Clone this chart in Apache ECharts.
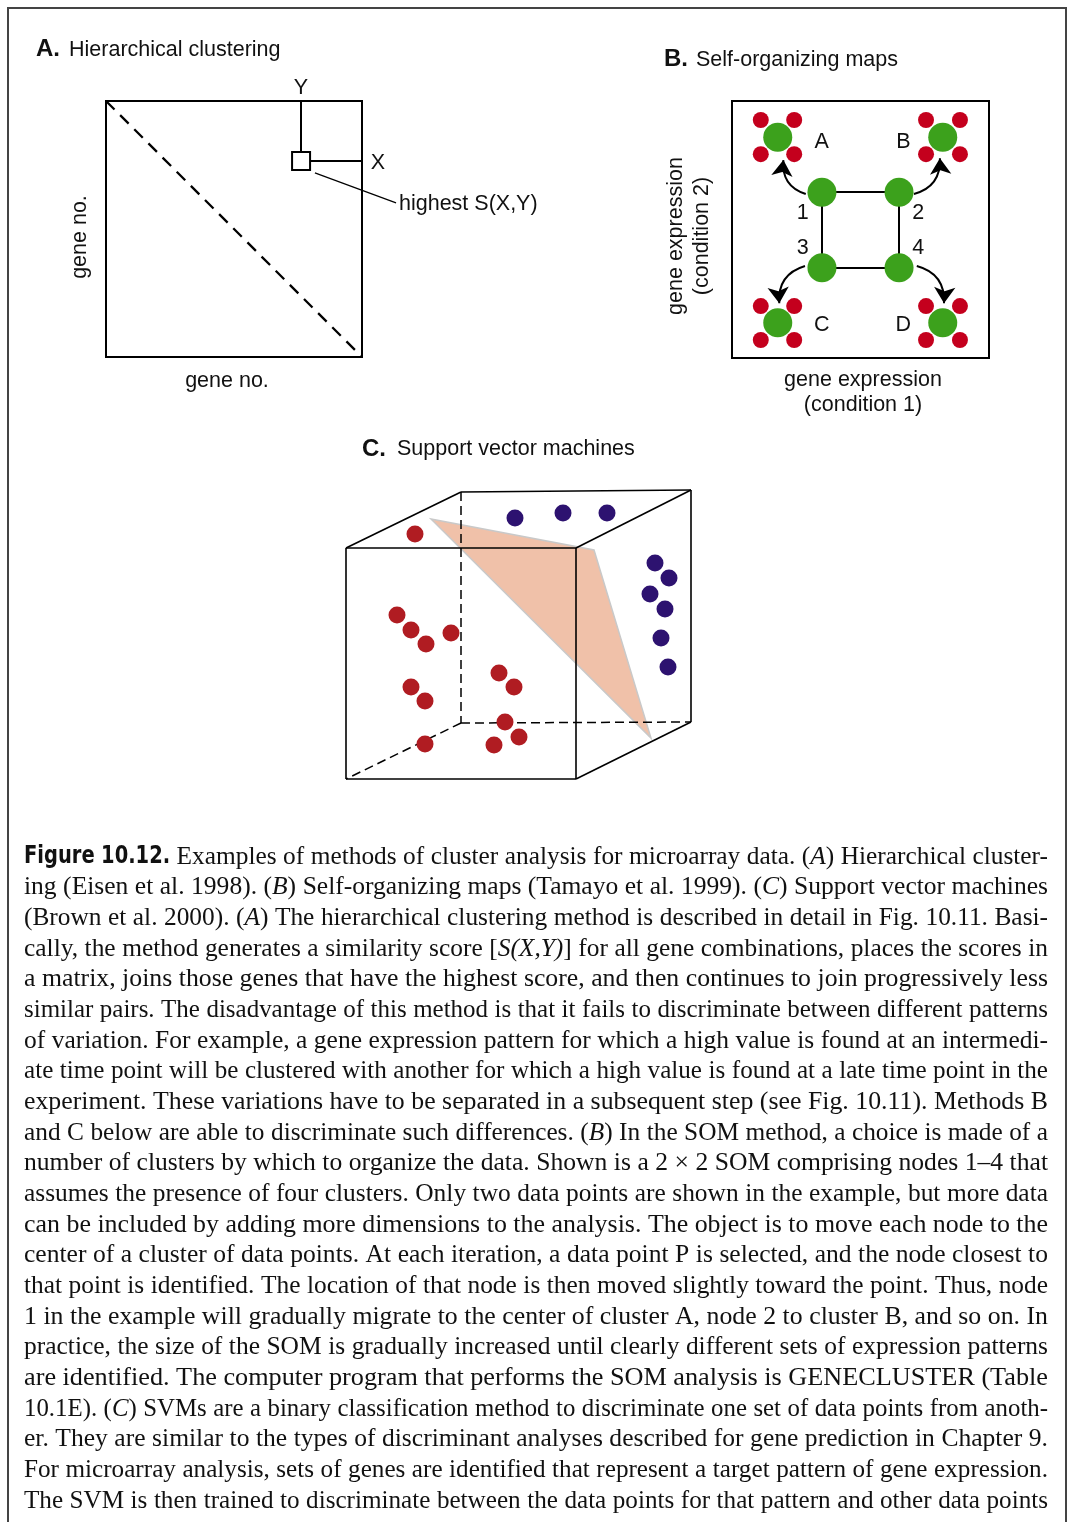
<!DOCTYPE html>
<html><head><meta charset="utf-8">
<script src="https://cdn.jsdelivr.net/npm/echarts@6/dist/echarts.min.js"></script>
<style>html,body{margin:0;padding:0;background:#fff}#c{width:1070px;height:1522px}</style>
</head><body><div id="c"></div>
<script>
// ---------- Panel A: hierarchical clustering (units 0..100) ----------
const hcDiagonal = [[0, 100], [100, 0]];
const hcBestCell = [76.2, 76.6];
const hcCellTopY = 80.1;
const hcCellRightX = 79.7;
const hcLeader = [[81.6, 71.9], [113.3, 60.2]];

// ---------- Panel B: self-organizing map (units 0..100) ----------
const somNodes = [[35, 64.5], [65, 64.5], [35, 35.1], [65, 35.1]]; // nodes 1..4
const somEdges = [[0, 1], [1, 3], [3, 2], [2, 0]];
const somClusterCenters = [[17.8, 85.9], [82, 85.9], [17.8, 13.7], [82, 13.7]]; // A..D
const somDataPoints = [
  [11.2, 92.6], [24.2, 92.6], [11.2, 79.3], [24.2, 79.3],
  [75.5, 92.6], [88.7, 92.6], [75.5, 79.3], [88.7, 79.3],
  [11.2, 20.2], [24.2, 20.2], [11.2, 7.0], [24.2, 7.0],
  [75.5, 20.2], [88.7, 20.2], [75.5, 7.0], [88.7, 7.0]
];
const somArrowStarts = [[28.7, 63.8], [70.8, 63.8], [28.4, 35.8], [71.9, 35.8]];
const somArrowEnds = [[20.0, 77.0], [80.9, 77.7], [18.4, 21.3], [82.5, 21.3]];
const somArrowCurve = [0.4, -0.4, -0.4, 0.4];

// ---------- Panel C: support vector machine (units: cube space) ----------
const cubeSolidEdges = [
  [[0, 0], [230, 0]], [[230, 0], [230, 231]], [[230, 231], [0, 231]], [[0, 231], [0, 0]],
  [[0, 231], [115, 287]], [[115, 287], [345, 289]], [[345, 289], [230, 231]],
  [[345, 289], [345, 57]], [[345, 57], [230, 0]]
];
const cubeHiddenEdges = [[[115, 287], [115, 56]], [[115, 56], [345, 57]], [[115, 56], [0, 0]]];
const svmPlane = [[85, 260], [248, 229], [305, 41]];
const svmClassRed = [
  [69, 245], [51, 164], [65, 149], [80, 135], [105, 146], [65, 92], [79, 78],
  [153, 106], [168, 92], [159, 57], [173, 42], [148, 34], [79, 35]
];
const svmClassBlue = [
  [169, 261], [217, 266], [261, 266], [309, 216], [323, 201], [304, 185], [319, 170], [315, 141], [322, 112]
];

// ---------- Caption ----------
const captionLines = [
  "{b|Figure} {b|10.12.} Examples of methods of cluster analysis for microarray data. ({i|A}) Hierarchical cluster-",
  "ing (Eisen et al. 1998). ({i|B}) Self-organizing maps (Tamayo et al. 1999). ({i|C}) Support vector machines",
  "(Brown et al. 2000). ({i|A}) The hierarchical clustering method is described in detail in Fig. 10.11. Basi-",
  "cally, the method generates a similarity score [{i|S(X,Y)}] for all gene combinations, places the scores in",
  "a matrix, joins those genes that have the highest score, and then continues to join progressively less",
  "similar pairs. The disadvantage of this method is that it fails to discriminate between different patterns",
  "of variation. For example, a gene expression pattern for which a high value is found at an intermedi-",
  "ate time point will be clustered with another for which a high value is found at a late time point in the",
  "experiment. These variations have to be separated in a subsequent step (see Fig. 10.11). Methods B",
  "and C below are able to discriminate such differences. ({i|B}) In the SOM method, a choice is made of a",
  "number of clusters by which to organize the data. Shown is a 2 \u00d7 2 SOM comprising nodes 1\u20134 that",
  "assumes the presence of four clusters. Only two data points are shown in the example, but more data",
  "can be included by adding more dimensions to the analysis. The object is to move each node to the",
  "center of a cluster of data points. At each iteration, a data point P is selected, and the node closest to",
  "that point is identified. The location of that node is then moved slightly toward the point. Thus, node",
  "1 in the example will gradually migrate to the center of cluster A, node 2 to cluster B, and so on. In",
  "practice, the size of the SOM is gradually increased until clearly different sets of expression patterns",
  "are identified. The computer program that performs the SOM analysis is GENECLUSTER (Table",
  "10.1E). ({i|C}) SVMs are a binary classification method to discriminate one set of data points from anoth-",
  "er. They are similar to the types of discriminant analyses described for gene prediction in Chapter 9.",
  "For microarray analysis, sets of genes are identified that represent a target pattern of gene expression.",
  "The SVM is then trained to discriminate between the data points for that pattern and other data points"
];

const SANS = '"Liberation Sans", Arial, Helvetica, sans-serif';
const SERIF = '"Liberation Serif", "DejaVu Serif", serif';
const BOLDC = '"DejaVu Sans", "Liberation Sans", sans-serif';
const INK = '#111';

function label(text, x, y, opts) {
  opts = opts || {};
  return {
    type: 'text', x: x, y: y, rotation: opts.rot || 0, z: 20,
    style: {
      text: text, fill: INK, fontFamily: SANS, fontSize: opts.size || 21.5,
      fontWeight: opts.bold ? 'bold' : 'normal',
      textAlign: opts.align || 'center', textVerticalAlign: 'middle'
    }
  };
}

// ---- caption layout: justified lines ----
const capSize = 25, capLeft = 24, capWidth = 1024, capTop = 857, capStep = 30.67, capGap = 6.5;
const mctx = document.createElement('canvas').getContext('2d');
function fontSpec(k) {
  if (k === 'i') return { fontStyle: 'italic', fontWeight: 'normal', fontFamily: SERIF, fontSize: capSize };
  if (k === 'b') return { fontStyle: 'normal', fontWeight: 'bold', fontFamily: BOLDC, fontSize: capSize - 1 };
  return { fontStyle: 'normal', fontWeight: 'normal', fontFamily: SERIF, fontSize: capSize };
}
function measure(t, f) {
  mctx.font = f.fontStyle + ' ' + f.fontWeight + ' ' + f.fontSize + 'px ' + f.fontFamily;
  return mctx.measureText(t).width;
}
const boldSquash = 0.8;
function parseWord(w) {
  const segs = []; const re = /\{(i|b)\|([^}]*)\}/g; let last = 0, m;
  while ((m = re.exec(w))) {
    if (m.index > last) segs.push({ t: w.slice(last, m.index), k: 'n' });
    segs.push({ t: m[2], k: m[1] }); last = re.lastIndex;
  }
  if (last < w.length) segs.push({ t: w.slice(last), k: 'n' });
  return segs;
}
const captionGraphics = [];
captionLines.forEach(function (line, li) {
  const words = line.split(' ').map(function (w) {
    const segs = parseWord(w);
    let wd = 0;
    segs.forEach(function (s) {
      s.f = fontSpec(s.k);
      s.sx = s.k === 'b' ? boldSquash : 1;
      s.w = measure(s.t, s.f) * s.sx;
      wd += s.w;
    });
    return { segs: segs, w: wd };
  });
  const sum = words.reduce(function (a, b) { return a + b.w; }, 0);
  const n = words.length;
  const sx = (capWidth - capGap * (n - 1)) / sum;
  const localGap = capGap / sx;
  const children = [];
  let x = 0;
  words.forEach(function (wd) {
    let cx = x;
    wd.segs.forEach(function (s) {
      children.push({
        type: 'text', x: cx, y: 0, scaleX: s.sx,
        style: {
          text: s.t, fill: INK, fontFamily: s.f.fontFamily, fontSize: s.f.fontSize,
          fontStyle: s.f.fontStyle, fontWeight: s.f.fontWeight,
          textAlign: 'left', textVerticalAlign: 'middle'
        }
      });
      cx += s.w;
    });
    x += wd.w + localGap;
  });
  captionGraphics.push({ type: 'group', x: capLeft, y: capTop + li * capStep, scaleX: sx, children: children });
});

const chart = echarts.init(document.getElementById('c'), null, { renderer: 'canvas' });

function hiddenAxis(idx, min, max) {
  return { gridIndex: idx, type: 'value', min: min, max: max, show: false, splitLine: { show: false } };
}

const option = {
  animation: false,
  backgroundColor: '#fff',
  grid: [
    { left: 106, top: 101, width: 256, height: 256, show: true, borderColor: '#000', borderWidth: 2, backgroundColor: 'transparent' },
    { left: 732, top: 101, width: 257, height: 257, show: true, borderColor: '#000', borderWidth: 2, backgroundColor: 'transparent' },
    { left: 346, top: 490, width: 345, height: 289, show: false }
  ],
  xAxis: [hiddenAxis(0, 0, 100), hiddenAxis(1, 0, 100), hiddenAxis(2, 0, 345)],
  yAxis: [hiddenAxis(0, 0, 100), hiddenAxis(1, 0, 100), hiddenAxis(2, 0, 289)],
  series: [
    // ---- Panel A ----
    {
      type: 'lines', coordinateSystem: 'cartesian2d', xAxisIndex: 0, yAxisIndex: 0, clip: false,
      lineStyle: { color: '#000', width: 2.3, type: [12, 8], opacity: 1 },
      data: [{ coords: hcDiagonal }]
    },
    {
      type: 'lines', coordinateSystem: 'cartesian2d', xAxisIndex: 0, yAxisIndex: 0, clip: false,
      lineStyle: { color: '#000', width: 2, opacity: 1 },
      data: [
        { coords: [[hcBestCell[0], 100], [hcBestCell[0], hcCellTopY]] },
        { coords: [[hcCellRightX, hcBestCell[1]], [100, hcBestCell[1]]] }
      ]
    },
    {
      type: 'lines', coordinateSystem: 'cartesian2d', xAxisIndex: 0, yAxisIndex: 0, clip: false,
      lineStyle: { color: '#000', width: 1.2, opacity: 1 },
      data: [{ coords: hcLeader }]
    },
    {
      type: 'scatter', xAxisIndex: 0, yAxisIndex: 0, symbol: 'rect', symbolSize: 18,
      itemStyle: { color: '#fff', borderColor: '#000', borderWidth: 2, opacity: 1 },
      data: [hcBestCell]
    },
    // ---- Panel B ----
    {
      type: 'lines', coordinateSystem: 'cartesian2d', xAxisIndex: 1, yAxisIndex: 1,
      lineStyle: { color: '#000', width: 2, opacity: 1 },
      data: somEdges.map(function (e) { return { coords: [somNodes[e[0]], somNodes[e[1]]] }; })
    },
    {
      type: 'lines', coordinateSystem: 'cartesian2d', xAxisIndex: 1, yAxisIndex: 1,
      symbol: ['none', 'arrow'], symbolSize: 16,
      lineStyle: { color: '#000', width: 2, opacity: 1 },
      data: somArrowStarts.map(function (s, i) {
        return { coords: [s, somArrowEnds[i]], lineStyle: { curveness: somArrowCurve[i] } };
      })
    },
    {
      type: 'scatter', xAxisIndex: 1, yAxisIndex: 1, symbolSize: 16,
      itemStyle: { color: '#c4001d', opacity: 1 }, data: somDataPoints
    },
    {
      type: 'scatter', xAxisIndex: 1, yAxisIndex: 1, symbolSize: 29,
      itemStyle: { color: '#3ca11c', opacity: 1 }, data: somClusterCenters
    },
    {
      type: 'scatter', xAxisIndex: 1, yAxisIndex: 1, symbolSize: 29,
      itemStyle: { color: '#3ca11c', opacity: 1 }, data: somNodes
    },
    // ---- Panel C ----
    {
      type: 'custom', xAxisIndex: 2, yAxisIndex: 2, data: [[0, 0]],
      renderItem: function (params, api) {
        return {
          type: 'polygon',
          shape: { points: svmPlane.map(function (p) { return api.coord(p); }) },
          style: { fill: '#f0c1a9', stroke: '#c9c9c9', lineWidth: 1.5 }
        };
      }
    },
    {
      type: 'lines', coordinateSystem: 'cartesian2d', xAxisIndex: 2, yAxisIndex: 2, clip: false,
      lineStyle: { color: '#000', width: 1.6, opacity: 1 },
      data: cubeSolidEdges.map(function (c) { return { coords: c }; })
    },
    {
      type: 'lines', coordinateSystem: 'cartesian2d', xAxisIndex: 2, yAxisIndex: 2, clip: false,
      lineStyle: { color: '#000', width: 1.5, type: [9, 5], opacity: 1 },
      data: cubeHiddenEdges.map(function (c) { return { coords: c }; })
    },
    {
      type: 'scatter', xAxisIndex: 2, yAxisIndex: 2, symbolSize: 17, clip: false,
      itemStyle: { color: '#b01c22', opacity: 1 }, data: svmClassRed
    },
    {
      type: 'scatter', xAxisIndex: 2, yAxisIndex: 2, symbolSize: 17, clip: false,
      itemStyle: { color: '#2d1270', opacity: 1 }, data: svmClassBlue
    }
  ],
  graphic: [
    { type: 'rect', shape: { x: 8, y: 8, width: 1058, height: 1530 }, style: { fill: 'none', stroke: '#444', lineWidth: 2 }, z: 1 },
    // panel A labels
    label('A.', 36, 49, { bold: true, size: 24, align: 'left' }),
    label('Hierarchical clustering', 69, 50, { align: 'left' }),
    label('Y', 301, 88),
    label('X', 378, 163),
    label('highest S(X,Y)', 399, 204, { align: 'left' }),
    label('gene no.', 227, 381),
    label('gene no.', 80, 237, { rot: Math.PI / 2 }),
    // panel B labels
    label('B.', 664, 59, { bold: true, size: 24, align: 'left' }),
    label('Self-organizing maps', 696, 60, { align: 'left' }),
    label('A', 821.7, 141.7), label('B', 903.3, 141.7), label('C', 821.7, 325), label('D', 903.3, 325),
    label('1', 802.7, 212.7), label('2', 918.3, 212.7), label('3', 802.7, 248.3), label('4', 918.3, 248.3),
    label('gene expression', 863, 380), label('(condition 1)', 863, 405),
    label('gene expression', 676, 236, { rot: Math.PI / 2 }),
    label('(condition 2)', 702, 236, { rot: Math.PI / 2 }),
    // panel C labels
    label('C.', 362, 449, { bold: true, size: 24, align: 'left' }),
    label('Support vector machines', 397, 449, { align: 'left' })
  ].concat(captionGraphics)
};
chart.setOption(option);
</script>
</body></html>
